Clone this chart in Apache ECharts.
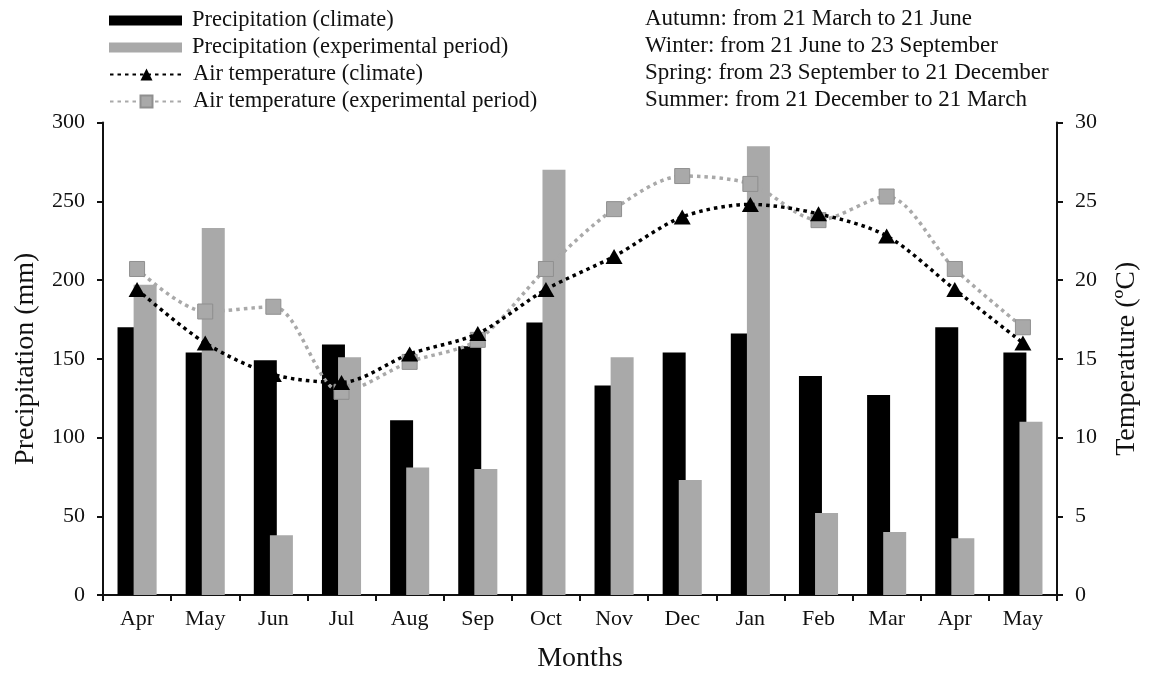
<!DOCTYPE html>
<html>
<head>
<meta charset="utf-8">
<script src="https://cdn.jsdelivr.net/npm/echarts@6/dist/echarts.min.js"></script>
<style>
  html, body { margin: 0; padding: 0; background: #fff; }
  #chart { width: 1149px; height: 678px; }
</style>
</head>
<body>
<div id="chart"></div>
<script>
// 月份（两年跨度，有重复的月份名）
const months = ["Apr", "May", "Jun", "Jul", "Aug", "Sep", "Oct", "Nov", "Dec", "Jan", "Feb", "Mar", "Apr", "May"];

// 降水 (mm)
const precipClimate = [170, 154, 149, 159, 111, 158, 173, 133, 154, 166, 139, 127, 170, 154];
const precipExperimental = [197, 233, 38, 151, 81, 80, 270, 151, 73, 285, 52, 40, 36, 110];

// 气温 (ºC)
const tempClimate = [19.4, 16.0, 14.0, 13.5, 15.3, 16.6, 19.4, 21.5, 24.0, 24.8, 24.2, 22.8, 19.4, 16.0];
const tempExperimental = [20.7, 18.0, 18.3, 12.9, 14.8, 16.2, 20.7, 24.5, 26.6, 26.1, 23.8, 25.3, 20.7, 17.0];

// 季节说明
const seasonNotes = [
  "Autumn: from 21 March to 21 June",
  "Winter: from 21 June to 23 September",
  "Spring: from 23 September to 21 December",
  "Summer: from 21 December to 21 March"
];

const FONT = "Liberation Serif";
const INK = "#111";
const GRAY = "#a9a9a9";

const chart = echarts.init(document.getElementById("chart"), null, { renderer: "canvas" });

const legendText = { fontFamily: FONT, fontSize: 22.5, color: INK, lineHeight: 27, padding: [0, 0, 0, 5] };
const tickLabel = { fontFamily: FONT, fontSize: 22, color: INK };
const axisName = { fontFamily: FONT, fontSize: 28, color: INK };

const option = {
  backgroundColor: "#fff",
  animation: false,
  title: {
    text: seasonNotes.join("\n"),
    left: 645,
    top: 5,
    padding: 0,
    textStyle: { fontFamily: FONT, fontSize: 23, fontWeight: "normal", color: INK, lineHeight: 27 }
  },
  legend: [
    {
      data: ["Precipitation (climate)", "Precipitation (experimental period)"],
      orient: "vertical",
      left: 109,
      top: 7,
      padding: 0,
      itemGap: 0,
      itemWidth: 73,
      itemHeight: 10,
      icon: "rect",
      textStyle: legendText
    },
    {
      data: ["Air temperature (climate)", "Air temperature (experimental period)"],
      orient: "vertical",
      left: 109,
      top: 61,
      padding: 0,
      itemGap: 0,
      itemWidth: 73,
      itemHeight: 15,
      textStyle: legendText
    }
  ],
  grid: { left: 103, right: 87, top: 122.5, bottom: 80.5, containLabel: false },
  xAxis: {
    type: "category",
    data: months,
    name: "Months",
    nameLocation: "middle",
    nameGap: 50,
    nameTextStyle: axisName,
    axisLine: { lineStyle: { color: INK, width: 2 } },
    axisTick: { show: true, length: 6, lineStyle: { color: INK, width: 2 } },
    axisLabel: Object.assign({ margin: 13 }, tickLabel)
  },
  yAxis: [
    {
      type: "value",
      min: 0,
      max: 300,
      interval: 50,
      name: "Precipitation (mm)",
      nameLocation: "middle",
      nameGap: 63,
      nameTextStyle: axisName,
      splitLine: { show: false },
      axisLine: { show: true, lineStyle: { color: INK, width: 2 } },
      axisTick: { show: true, length: 6, lineStyle: { color: INK, width: 2 } },
      axisLabel: Object.assign({ margin: 18 }, tickLabel)
    },
    {
      type: "value",
      min: 0,
      max: 30,
      interval: 5,
      name: "Temperature (ºC)",
      nameLocation: "middle",
      nameGap: 56,
      nameTextStyle: axisName,
      splitLine: { show: false },
      axisLine: { show: true, lineStyle: { color: INK, width: 2 } },
      axisTick: { show: true, length: 6, lineStyle: { color: INK, width: 2 } },
      axisLabel: Object.assign({ margin: 18 }, tickLabel)
    }
  ],
  series: [
    {
      name: "Precipitation (climate)",
      type: "bar",
      data: precipClimate,
      barWidth: 23,
      barGap: "-30%",
      itemStyle: { color: "#000" }
    },
    {
      name: "Precipitation (experimental period)",
      type: "bar",
      data: precipExperimental,
      barWidth: 23,
      barGap: "-30%",
      itemStyle: { color: GRAY }
    },
    {
      name: "Air temperature (climate)",
      type: "line",
      yAxisIndex: 1,
      data: tempClimate,
      smooth: 0.3,
      symbol: "triangle",
      symbolSize: [17, 15],
      itemStyle: { color: "#000" },
      lineStyle: { color: "#000", width: 3.5, type: [3.5, 4] },
      z: 5
    },
    {
      name: "Air temperature (experimental period)",
      type: "line",
      yAxisIndex: 1,
      data: tempExperimental,
      smooth: 0.3,
      symbol: "rect",
      symbolSize: 15,
      itemStyle: { color: GRAY, borderColor: "#8f8f8f", borderWidth: 1 },
      lineStyle: { color: GRAY, width: 3.5, type: [3.5, 4] },
      z: 4
    }
  ]
};

chart.setOption(option);

window.addEventListener("resize", () => {
  chart.resize();
});
</script>
</body>
</html>
